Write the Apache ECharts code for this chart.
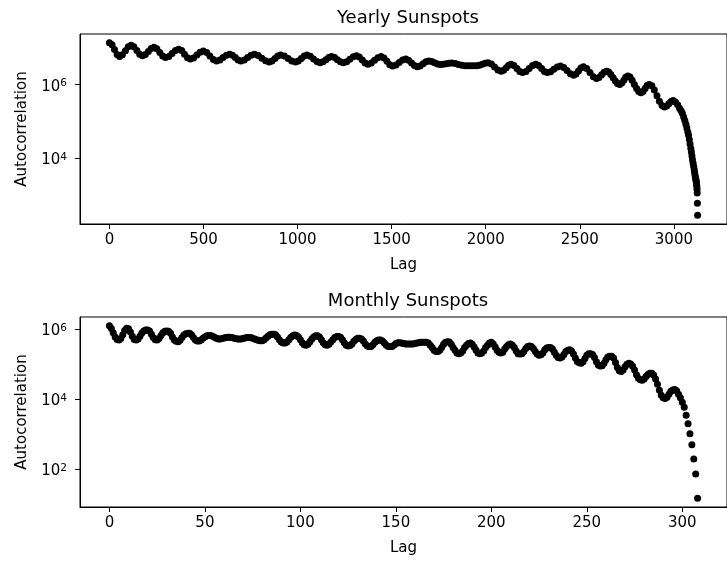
<!DOCTYPE html>
<html>
<head>
<meta charset="utf-8">
<script src="https://cdn.jsdelivr.net/npm/echarts@6/dist/echarts.min.js"></script>
<style>
html,body{margin:0;padding:0;background:#fff}
#chart{width:727px;height:563px}
</style>
</head>
<body>
<div id="chart"></div>
<script>
// ---- Data ----
const titles = ['Yearly Sunspots', 'Monthly Sunspots'];
const xAxisName = 'Lag';
const yAxisName = 'Autocorrelation';

// Upper panel ("Yearly Sunspots"): lag -> autocorrelation
const yearlyLags = [
  0,14,27,41,54,69,85,100,115,130,
  146,161,176,191,207,222,237,252,268,283,
  298,316,333,351,368,384,399,415,430,447,
  465,482,499,517,534,552,569,587,604,622,
  639,654,669,684,699,717,735,753,771,791,
  810,830,849,864,880,895,910,930,950,969,
  989,1004,1020,1035,1050,1068,1085,1103,1120,1135,
  1151,1166,1181,1197,1212,1228,1243,1261,1278,1296,
  1313,1328,1344,1359,1374,1392,1409,1427,1444,1459,
  1475,1490,1505,1523,1540,1558,1575,1590,1606,1621,
  1636,1651,1667,1682,1697,1713,1728,1744,1759,1774,
  1790,1805,1820,1838,1855,1873,1890,1905,1921,1936,
  1951,1966,1982,1997,2012,2030,2047,2065,2082,2095,
  2109,2122,2135,2150,2166,2181,2196,2214,2231,2249,
  2266,2281,2297,2312,2327,2345,2362,2380,2397,2415,
  2432,2450,2467,2480,2493,2506,2519,2537,2554,2572,
  2589,2602,2616,2629,2642,2654,2665,2677,2689,2700,
  2712,2723,2734,2744,2755,2767,2778,2790,2802,2813,
  2825,2836,2847,2858,2869,2883,2896,2910,2923,2937,
  2950,2962,2973,2985,2996,3008,3020,3030,3038,3045,
  3052,3058,3064,3069,3074,3078,3082,3086,3090,3093,
  3096,3099,3102,3105,3108,3110,3112,3114,3116,3118,
  3119,3120,3121,3122,3123,3124,3125,3126
];
const yearlyValues = [
  1.41e7,1.24e7,9.12e6,6.70e6,5.89e6,6.53e6,8.41e6,1.08e7,1.20e7,1.09e7,
  8.61e6,6.79e6,6.17e6,6.67e6,8.04e6,9.68e6,1.05e7,9.53e6,7.59e6,6.04e6,
  5.50e6,5.94e6,7.16e6,8.63e6,9.33e6,8.53e6,6.84e6,5.48e6,5.01e6,5.40e6,
  6.46e6,7.73e6,8.32e6,7.60e6,6.10e6,4.89e6,4.47e6,4.74e6,5.50e6,6.37e6,
  6.76e6,6.37e6,5.50e6,4.74e6,4.47e6,4.74e6,5.50e6,6.37e6,6.76e6,6.30e6,
  5.31e6,4.48e6,4.17e6,4.45e6,5.19e6,6.05e6,6.46e6,6.05e6,5.19e6,4.45e6,
  4.17e6,4.45e6,5.19e6,6.05e6,6.46e6,6.01e6,5.07e6,4.28e6,3.98e6,4.22e6,
  4.84e6,5.56e6,5.89e6,5.56e6,4.84e6,4.22e6,3.98e6,4.25e6,4.95e6,5.78e6,
  6.17e6,5.70e6,4.73e6,3.93e6,3.63e6,3.90e6,4.62e6,5.48e6,5.89e6,5.40e6,
  4.37e6,3.53e6,3.24e6,3.45e6,4.03e6,4.70e6,5.01e6,4.67e6,3.94e6,3.32e6,
  3.09e6,3.26e6,3.72e6,4.24e6,4.47e6,4.32e6,3.98e6,3.67e6,3.55e6,3.60e6,
  3.72e6,3.84e6,3.89e6,3.80e6,3.59e6,3.39e6,3.31e6,3.31e6,3.31e6,3.31e6,
  3.31e6,3.40e6,3.63e6,3.87e6,3.98e6,3.68e6,3.05e6,2.54e6,2.34e6,2.50e6,
  2.92e6,3.40e6,3.63e6,3.36e6,2.79e6,2.31e6,2.14e6,2.31e6,2.79e6,3.36e6,
  3.63e6,3.36e6,2.79e6,2.31e6,2.14e6,2.27e6,2.63e6,3.05e6,3.24e6,2.97e6,
  2.43e6,1.98e6,1.82e6,1.97e6,2.37e6,2.86e6,3.09e6,2.77e6,2.14e6,1.65e6,
  1.48e6,1.58e6,1.86e6,2.19e6,2.34e6,2.22e6,1.91e6,1.55e6,1.26e6,1.08e6,
  1.02e6,1.11e6,1.33e6,1.61e6,1.74e6,1.62e6,1.33e6,1.02e6,7.85e5,6.47e5,
  6.03e5,6.52e5,7.85e5,9.46e5,1.02e6,9.29e5,7.16e5,5.01e5,3.51e5,2.70e5,
  2.45e5,2.61e5,3.02e5,3.50e5,3.72e5,3.39e5,2.82e5,2.29e5,1.95e5,1.66e5,
  1.32e5,1.05e5,8.32e4,6.61e4,5.13e4,4.17e4,3.16e4,2.40e4,1.82e4,1.45e4,
  1.12e4,8.91e3,7.24e3,5.89e3,4.79e3,4.07e3,3.47e3,3.02e3,2.69e3,2.40e3,
  2.24e3,2.04e3,1.86e3,1.66e3,1.38e3,1.10e3,575,269
];

// Lower panel ("Monthly Sunspots"): one value per lag 0..308
const monthlyValues = [
  1.26e6,1.05e6,7.9e5,6.0e5,5.1e5,4.9e5,5.4e5,6.9e5,9.1e5,1.07e6,
  1.02e6,8.3e5,6.3e5,5.1e5,4.9e5,5.2e5,6.3e5,7.8e5,8.9e5,9.5e5,
  9.5e5,8.9e5,7.2e5,5.8e5,5.0e5,4.9e5,5.4e5,6.6e5,7.9e5,8.7e5,
  8.9e5,8.7e5,7.6e5,6.0e5,4.9e5,4.5e5,4.4e5,4.8e5,5.8e5,6.8e5,
  7.4e5,7.7e5,7.6e5,6.9e5,5.8e5,4.9e5,4.6e5,4.6e5,4.9e5,5.5e5,
  6.0e5,6.5e5,6.6e5,6.6e5,6.3e5,5.9e5,5.5e5,5.2e5,5.2e5,5.4e5,
  5.6e5,5.8e5,5.9e5,5.9e5,5.8e5,5.6e5,5.4e5,5.2e5,5.2e5,5.2e5,
  5.4e5,5.6e5,5.8e5,5.8e5,5.8e5,5.5e5,5.2e5,5.0e5,4.8e5,4.7e5,
  4.7e5,5.0e5,5.6e5,6.3e5,6.9e5,7.2e5,7.2e5,6.9e5,6.0e5,5.0e5,
  4.3e5,4.0e5,4.0e5,4.3e5,5.0e5,5.9e5,6.5e5,6.8e5,6.6e5,6.0e5,
  5.0e5,4.1e5,3.6e5,3.5e5,3.7e5,4.4e5,5.2e5,6.0e5,6.5e5,6.5e5,
  6.0e5,5.0e5,4.1e5,3.6e5,3.5e5,3.7e5,4.3e5,5.0e5,5.8e5,6.2e5,
  6.2e5,5.9e5,5.0e5,4.1e5,3.5e5,3.3e5,3.4e5,3.8e5,4.5e5,5.1e5,
  5.5e5,5.5e5,5.2e5,4.6e5,3.8e5,3.3e5,3.2e5,3.2e5,3.6e5,4.2e5,
  4.7e5,4.9e5,4.9e5,4.6e5,4.0e5,3.5e5,3.2e5,3.2e5,3.2e5,3.5e5,
  3.9e5,4.1e5,4.1e5,4.0e5,3.9e5,3.8e5,3.8e5,3.8e5,3.8e5,3.8e5,
  3.9e5,4.0e5,4.1e5,4.2e5,4.2e5,4.2e5,4.2e5,4.0e5,3.5e5,3.0e5,
  2.5e5,2.3e5,2.3e5,2.5e5,3.0e5,3.7e5,4.2e5,4.4e5,4.3e5,3.7e5,
  3.0e5,2.5e5,2.1e5,2.0e5,2.1e5,2.4e5,3.0e5,3.5e5,3.9e5,4.0e5,
  3.7e5,3.1e5,2.5e5,2.1e5,2.0e5,2.1e5,2.4e5,3.0e5,3.5e5,4.0e5,
  4.2e5,3.8e5,3.1e5,2.5e5,2.2e5,2.1e5,2.2e5,2.7e5,3.2e5,3.6e5,
  3.8e5,3.5e5,3.0e5,2.4e5,2.0e5,1.95e5,2.0e5,2.3e5,2.8e5,3.2e5,
  3.3e5,3.2e5,2.8e5,2.3e5,1.95e5,1.8e5,1.85e5,2.1e5,2.6e5,2.9e5,
  3.0e5,3.0e5,2.7e5,2.2e5,1.8e5,1.55e5,1.5e5,1.6e5,1.9e5,2.3e5,
  2.5e5,2.6e5,2.4e5,1.95e5,1.5e5,1.2e5,1.1e5,1.07e5,1.17e5,1.45e5,
  1.8e5,2.0e5,2.0e5,1.9e5,1.55e5,1.17e5,9.5e4,8.9e4,9.1e4,1.07e5,
  1.35e5,1.6e5,1.7e5,1.7e5,1.5e5,1.12e5,8.1e4,6.5e4,6.2e4,6.8e4,
  8.5e4,1.0e5,1.07e5,1.02e5,8.7e4,6.8e4,5.0e4,4.0e4,3.6e4,3.5e4,
  3.8e4,4.5e4,5.1e4,5.5e4,5.5e4,4.9e4,3.8e4,2.7e4,1.8e4,1.3e4,
  1.1e4,1.05e4,1.15e4,1.4e4,1.7e4,1.85e4,1.9e4,1.75e4,1.4e4,1.1e4,
  8.3e3,5.9e3,3.5e3,2.0e3,1.05e3,510,200,74,15
];

// Tick positions
const yearlyXTicks = [0, 500, 1000, 1500, 2000, 2500, 3000];
const monthlyXTicks = [0, 50, 100, 150, 200, 250, 300];
const yearlyYTicks = [1e4, 1e6];
const monthlyYTicks = [1e2, 1e4, 1e6];

// ---- Build chart ----
const FONT = 'DejaVu Sans';
const n = Math.min(yearlyLags.length, yearlyValues.length);
const yearlyData = [];
for (let i = 0; i < n; i++) yearlyData.push([yearlyLags[i], yearlyValues[i]]);
const monthlyData = monthlyValues.map((v, i) => [i, v]);

function padLinear(arr) {
  const mn = Math.min.apply(null, arr), mx = Math.max.apply(null, arr), d = mx - mn;
  return [mn - 0.05 * d, mx + 0.05 * d];
}
function padLog(arr) {
  const a = Math.log10(Math.min.apply(null, arr)), b = Math.log10(Math.max.apply(null, arr)), d = b - a;
  return [Math.pow(10, a - 0.05 * d), Math.pow(10, b + 0.05 * d)];
}
const xr1 = padLinear(yearlyData.map(p => p[0]));
const yr1 = padLog(yearlyData.map(p => p[1]));
const xr2 = padLinear(monthlyData.map(p => p[0]));
const yr2 = padLog(monthlyData.map(p => p[1]));

const gridTops = [34, 317];

function makeX(idx, range, ticks) {
  return {
    type: 'value', gridIndex: idx, min: range[0], max: range[1],
    name: xAxisName, nameLocation: 'middle', nameGap: 34,
    nameTextStyle: { fontFamily: FONT, fontSize: 15, color: '#000' },
    axisLine: { show: true, onZero: false, lineStyle: { color: '#000', width: 1 } },
    axisTick: { show: true, length: 5, customValues: ticks, lineStyle: { color: '#000', width: 1 } },
    axisLabel: { customValues: ticks, fontFamily: FONT, fontSize: 15, color: '#000', margin: 9,
      formatter: v => String(Math.round(v)) },
    splitLine: { show: false }
  };
}
function makeY(idx, range, ticks) {
  return {
    type: 'log', logBase: 10, gridIndex: idx, min: range[0], max: range[1],
    name: yAxisName, nameLocation: 'middle', nameGap: 50,
    nameTextStyle: { fontFamily: FONT, fontSize: 15, color: '#000' },
    axisLine: { show: true, onZero: false, lineStyle: { color: '#000', width: 1 } },
    axisTick: { show: true, length: 5, customValues: ticks, lineStyle: { color: '#000', width: 1 } },
    axisLabel: {
      customValues: ticks, margin: 13, padding: [4, 0, 0, 0],
      formatter: v => '{b|10}{s|' + Math.round(Math.log10(v)) + '}',
      rich: {
        b: { fontFamily: FONT, fontSize: 15, lineHeight: 17, color: '#000' },
        s: { fontFamily: FONT, fontSize: 10.5, lineHeight: 8, verticalAlign: 'top', color: '#000' }
      }
    },
    splitLine: { show: false },
    minorTick: { show: false }
  };
}

const chart = echarts.init(document.getElementById('chart'), null, { renderer: 'canvas' });
chart.setOption({
  animation: false,
  backgroundColor: '#fff',
  title: titles.map((t, i) => ({
    text: t, left: 408, top: gridTops[i] - 25, textAlign: 'center', padding: 0,
    textStyle: { fontFamily: FONT, fontSize: 18, fontWeight: 'normal', color: '#000' }
  })),
  grid: gridTops.map(t => ({
    left: 80, top: t, width: 656, height: 190, show: true,
    borderColor: '#000', borderWidth: 1, backgroundColor: 'transparent', containLabel: false
  })),
  xAxis: [makeX(0, xr1, yearlyXTicks), makeX(1, xr2, monthlyXTicks)],
  yAxis: [makeY(0, yr1, yearlyYTicks), makeY(1, yr2, monthlyYTicks)],
  series: [
    { type: 'scatter', xAxisIndex: 0, yAxisIndex: 0, data: yearlyData, symbol: 'circle', symbolSize: 7,
      itemStyle: { color: '#000', opacity: 1 }, silent: true },
    { type: 'scatter', xAxisIndex: 1, yAxisIndex: 1, data: monthlyData, symbol: 'circle', symbolSize: 7,
      itemStyle: { color: '#000', opacity: 1 }, silent: true }
  ]
});
</script>
</body>
</html>
